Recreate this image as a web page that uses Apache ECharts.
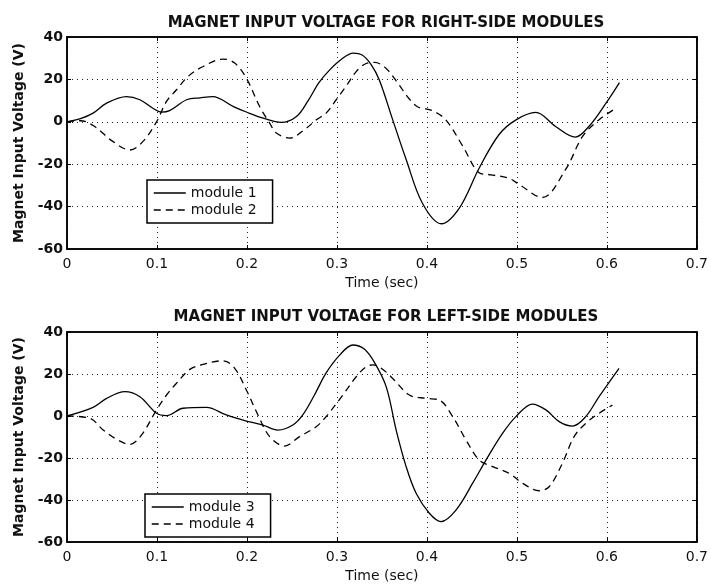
<!DOCTYPE html>
<html>
<head>
<meta charset="utf-8">
<script src="https://cdn.jsdelivr.net/npm/echarts@6/dist/echarts.min.js"></script>
<style>
  html, body { margin: 0; padding: 0; background: #fff; }
  #chart { width: 711px; height: 584px; }
</style>
</head>
<body>
<div id="chart"></div>
<script>
// 刻度
const xTickLabels = ["0", "0.1", "0.2", "0.3", "0.4", "0.5", "0.6", "0.7"];
const yTickLabels = ["-60", "-40", "-20", "0", "20", "40"];

const titles = [
  "MAGNET INPUT VOLTAGE FOR RIGHT-SIDE MODULES",
  "MAGNET INPUT VOLTAGE FOR LEFT-SIDE MODULES",
];

// module 1 (右侧, 实线)
const timeM1 = [0, 0.015, 0.029, 0.044, 0.066, 0.081, 0.095, 0.105, 0.114, 0.133, 0.148, 0.162, 0.185, 0.2, 0.218, 0.238, 0.255, 0.268, 0.28, 0.292, 0.305, 0.318, 0.328, 0.338, 0.347, 0.362, 0.377, 0.395, 0.416, 0.436, 0.458, 0.48, 0.499, 0.521, 0.543, 0.565, 0.58, 0.599, 0.614];
const voltM1 = [0, 1.5, 4.1, 8.8, 11.9, 10.4, 6.5, 4.6, 5.3, 10.4, 11.3, 11.9, 7.2, 4.5, 1.7, -0.3, 2.5, 10, 18.5, 24.5, 29.5, 32.4, 31.5, 27, 19.8, 0.9, -17.9, -38.4, -48.1, -40.7, -21.9, -6.1, 0.9, 4.4, -2.2, -7.2, -2.2, 8.8, 18.5];

// module 2 (右侧, 虚线)
const timeM2 = [0, 0.015, 0.03, 0.05, 0.07, 0.085, 0.0995, 0.1106, 0.1217, 0.1346, 0.1513, 0.1735, 0.1864, 0.1993, 0.2141, 0.2252, 0.2326, 0.2474, 0.2659, 0.277, 0.288, 0.2992, 0.31, 0.3214, 0.3325, 0.342, 0.355, 0.368, 0.38, 0.39, 0.406, 0.421, 0.44, 0.458, 0.471, 0.491, 0.503, 0.528, 0.554, 0.573, 0.591, 0.609];
const voltM2 = [0, 0.5, -2, -9, -13.3, -9, 0, 9.6, 15.1, 21.4, 26.1, 29.6, 27.7, 20.6, 7.2, -0.6, -5.3, -7.7, -3, 0.9, 4.1, 10.4, 16.7, 23.7, 27.5, 28, 25, 18, 11, 7, 5.3, 0.9, -11.6, -24, -25, -26.6, -29.7, -35.7, -22.6, -6.9, 0.9, 6.1];

// module 3 (左侧, 实线)
const timeM3 = [0, 0.029, 0.044, 0.0643, 0.081, 0.0995, 0.1106, 0.129, 0.155, 0.177, 0.1994, 0.2178, 0.2344, 0.251, 0.262, 0.275, 0.288, 0.303, 0.3177, 0.33, 0.341, 0.3547, 0.3658, 0.3769, 0.388, 0.4027, 0.4157, 0.4323, 0.4508, 0.4656, 0.484, 0.4989, 0.5173, 0.5322, 0.547, 0.5617, 0.5765, 0.5913, 0.6135];
const voltM3 = [0, 4.1, 8.4, 11.6, 9.2, 1.3, 0.2, 3.7, 4.1, 0.5, -2.4, -4.3, -6.7, -4.3, 0.5, 10, 20.5, 29, 33.8, 32, 26, 14, -6.7, -24.1, -36.8, -46.3, -50.3, -44.8, -32, -21, -8.3, -0.3, 5.7, 2.9, -2.7, -4.8, -0.3, 9.2, 22.7];

// module 4 (左侧, 虚线)
const timeM4 = [0, 0.0255, 0.0403, 0.0551, 0.0699, 0.0829, 0.0995, 0.1106, 0.1217, 0.1365, 0.1513, 0.1735, 0.1864, 0.1993, 0.2122, 0.2252, 0.2418, 0.2585, 0.277, 0.288, 0.3066, 0.3214, 0.3325, 0.34, 0.35, 0.362, 0.3805, 0.399, 0.4138, 0.4286, 0.4434, 0.4582, 0.473, 0.4915, 0.5062, 0.5247, 0.5358, 0.5506, 0.5636, 0.5765, 0.5913, 0.6061];
const voltM4 = [0, -1.1, -6.7, -11.1, -13.5, -9, 2.9, 10, 15.6, 22.2, 24.6, 26.3, 22.7, 12.4, 0.5, -9.8, -14.3, -9.8, -5.1, -0.3, 10, 18.7, 23.5, 24.3, 22.5, 17.9, 10, 8.4, 7.6, -0.3, -11.4, -21, -24.1, -27.3, -32, -35.6, -33.7, -22.5, -9.8, -3.5, 1.3, 5.2];

const zip = (t, v) => t.map((x, i) => [x, v[i]]);

const FONT = "DejaVu Sans";
const txt = { fontFamily: FONT, fontSize: 14, fontWeight: "bold", color: "#111" };

const grids = [
  { left: 67, right: 13, top: 37, height: 212 },
  { left: 67, right: 13, top: 332, height: 211 },
];

const xLabel = (v) => xTickLabels[Math.round(v * 10)];
const yLabel = (v) => yTickLabels[Math.round((v + 60) / 20)];

const frameLine = { onZero: false, lineStyle: { color: "#000", width: 1.5 } };
const tick = { inside: true, length: 4, lineStyle: { color: "#000" } };
const dotted = { show: true, lineStyle: { color: "#222", type: [1, 4], width: 1 } };

const xAxes = [];
const yAxes = [];
grids.forEach((g, i) => {
  xAxes.push({
    type: "value", gridIndex: i, min: 0, max: 0.7, interval: 0.1,
    position: "bottom",
    name: "Time (sec)", nameLocation: "middle", nameGap: 27,
    nameTextStyle: { ...txt, fontWeight: "normal" },
    axisLine: frameLine,
    axisTick: tick,
    axisLabel: { ...txt, fontWeight: "normal", margin: 8, formatter: xLabel },
    splitLine: dotted,
  });
  xAxes.push({
    type: "value", gridIndex: i, min: 0, max: 0.7, interval: 0.1,
    position: "top",
    axisLine: frameLine,
    axisTick: tick,
    axisLabel: { show: false },
    splitLine: { show: false },
  });
  yAxes.push({
    type: "value", gridIndex: i, min: -60, max: 40, interval: 20,
    position: "left",
    name: "Magnet Input Voltage (V)", nameLocation: "middle", nameGap: 38,
    nameTextStyle: { ...txt },
    axisLine: { show: true, ...frameLine },
    axisTick: { show: true, ...tick },
    axisLabel: { ...txt, margin: 4, formatter: yLabel },
    splitLine: dotted,
  });
  yAxes.push({
    type: "value", gridIndex: i, min: -60, max: 40, interval: 20,
    position: "right",
    axisLine: { show: true, ...frameLine },
    axisTick: { show: true, ...tick },
    axisLabel: { show: false },
    splitLine: { show: false },
  });
});

const lineSeries = (name, data, idx, dashed) => ({
  name, type: "line", data,
  xAxisIndex: idx * 2, yAxisIndex: idx * 2,
  smooth: 0.35, symbol: "none",
  lineStyle: { color: "#000", width: 1.3, type: dashed ? [7, 5] : "solid" },
  itemStyle: { color: "#000" },
  z: 3,
});

const legendBox = (left, top, names) => ({
  left, top, orient: "vertical",
  data: names,
  backgroundColor: "#fff",
  borderColor: "#000", borderWidth: 1.5, borderRadius: 0,
  padding: [6, 16, 6, 6], itemGap: 3,
  itemWidth: 32, itemHeight: 14,
  itemStyle: { opacity: 0 },
  lineStyle: { width: 1.5 },
  textStyle: { ...txt, fontWeight: "normal" },
  selectedMode: false,
  z: 10,
});

const chart = echarts.init(document.getElementById("chart"));
chart.setOption({
  backgroundColor: "#fff",
  animation: false,
  title: [
    { text: titles[0], left: 381, top: 11, textAlign: "center", textStyle: { ...txt, fontSize: 15 } },
    { text: titles[1], left: 381, top: 305, textAlign: "center", textStyle: { ...txt, fontSize: 15 } },
  ],
  grid: grids.map((g) => ({ ...g, show: true, borderColor: "#000", borderWidth: 1.5, backgroundColor: "transparent" })),
  xAxis: xAxes,
  yAxis: yAxes,
  legend: [
    legendBox(147, 180, ["module 1", "module 2"]),
    legendBox(145, 494, ["module 3", "module 4"]),
  ],
  series: [
    lineSeries("module 1", zip(timeM1, voltM1), 0, false),
    lineSeries("module 2", zip(timeM2, voltM2), 0, true),
    lineSeries("module 3", zip(timeM3, voltM3), 1, false),
    lineSeries("module 4", zip(timeM4, voltM4), 1, true),
  ],
});
window.addEventListener("resize", () => chart.resize());
</script>
</body>
</html>
